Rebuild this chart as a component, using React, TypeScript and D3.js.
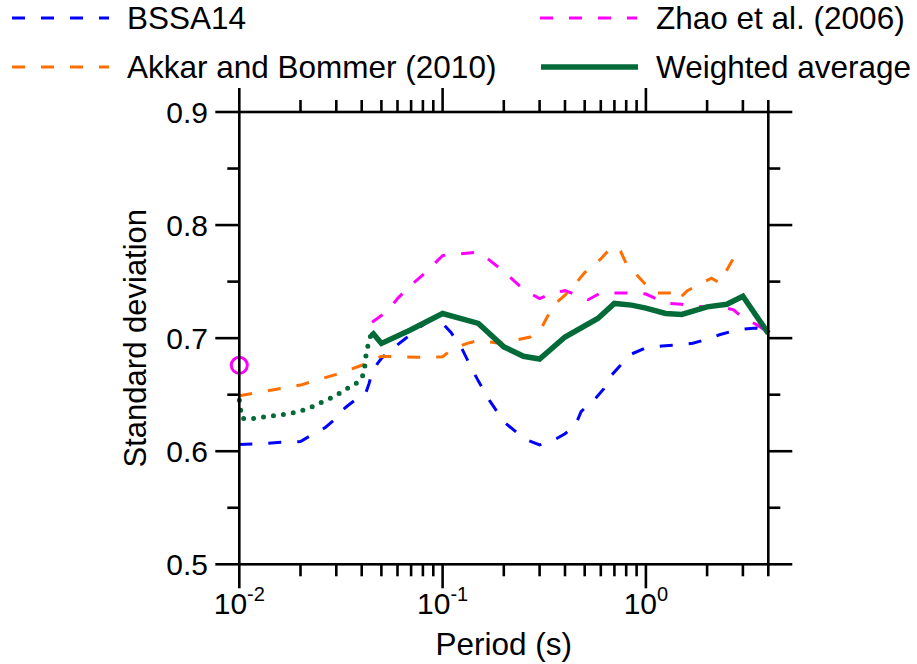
import React from "react";
import * as d3 from "d3";

// ---- data (period in s, standard deviation) ----
const bssaT = [0.01, 0.0125, 0.016, 0.02, 0.0225, 0.0265, 0.029, 0.031, 0.034, 0.037, 0.04, 0.042, 0.0435, 0.045, 0.048, 0.05, 0.055, 0.065, 0.075, 0.085, 0.09, 0.1, 0.11, 0.125, 0.14, 0.15, 0.17, 0.2, 0.23, 0.26, 0.3, 0.35, 0.4, 0.45, 0.48, 0.52, 0.56, 0.62, 0.66, 0.75, 0.85, 1.0, 1.2, 1.5, 1.7, 2.0, 2.3, 2.7, 3.0, 3.5, 4.0];
const bssaV = [0.606, 0.6065, 0.608, 0.6085, 0.614, 0.621, 0.627, 0.634, 0.64, 0.645, 0.6475, 0.652, 0.66, 0.67, 0.678, 0.682, 0.689, 0.699, 0.708, 0.715, 0.717, 0.713, 0.705, 0.69, 0.672, 0.662, 0.645, 0.626, 0.617, 0.61, 0.6055, 0.6095, 0.6155, 0.623, 0.635, 0.641, 0.646, 0.655, 0.665, 0.676, 0.686, 0.6915, 0.693, 0.6945, 0.6955, 0.699, 0.703, 0.7065, 0.708, 0.709, 0.707];

const abT = [0.01, 0.02, 0.03, 0.04, 0.05, 0.06, 0.075, 0.1, 0.11, 0.13, 0.15, 0.19, 0.22, 0.27, 0.3, 0.33, 0.35, 0.4, 0.45, 0.5, 0.55, 0.6, 0.65, 0.7, 0.75, 0.8, 0.9, 1.0, 1.1, 1.3, 1.4, 1.46, 1.6, 1.9, 2.1, 2.3, 2.55, 2.8];
const abV = [0.649, 0.6585, 0.668, 0.676, 0.684, 0.6835, 0.683, 0.6835, 0.6895, 0.695, 0.698, 0.6955, 0.6975, 0.701, 0.706, 0.72, 0.729, 0.738, 0.748, 0.758, 0.765, 0.77, 0.777, 0.781, 0.777, 0.766, 0.756, 0.747, 0.74, 0.74, 0.741, 0.735, 0.742, 0.749, 0.753, 0.749, 0.763, 0.776];

const zhaoT = [0.045, 0.05, 0.055, 0.06, 0.07, 0.08, 0.09, 0.1, 0.12, 0.15, 0.17, 0.2, 0.25, 0.3, 0.35, 0.4, 0.46, 0.52, 0.6, 0.7, 0.8, 0.9, 1.0, 1.25, 1.5, 1.8, 2.0, 2.5, 2.7, 3.0, 3.5, 4.0];
const zhaoV = [0.714, 0.72, 0.726, 0.735, 0.747, 0.756, 0.765, 0.773, 0.7745, 0.776, 0.769, 0.759, 0.743, 0.735, 0.74, 0.742, 0.738, 0.734, 0.74, 0.74, 0.74, 0.74, 0.739, 0.731, 0.73, 0.728, 0.7275, 0.7265, 0.725, 0.718, 0.712, 0.705];
const zhaoPgaT = 0.01;
const zhaoPgaV = 0.676;

const avgDotT = [0.01, 0.0103, 0.012, 0.0135, 0.016, 0.018, 0.02, 0.022, 0.025, 0.028, 0.031, 0.034, 0.038, 0.0405, 0.0415, 0.042, 0.043, 0.0448];
const avgDotV = [0.645, 0.629, 0.629, 0.6305, 0.632, 0.6335, 0.6355, 0.638, 0.6428, 0.6467, 0.651, 0.6555, 0.6605, 0.667, 0.676, 0.685, 0.694, 0.7056];
const avgT = [0.0448, 0.05, 0.069, 0.1, 0.15, 0.2, 0.25, 0.3, 0.4, 0.58, 0.7, 0.85, 1.0, 1.25, 1.5, 2.0, 2.5, 3.0, 4.0];
const avgV = [0.7056, 0.6953, 0.707, 0.7218, 0.713, 0.6923, 0.684, 0.6815, 0.701, 0.7174, 0.7307, 0.7292, 0.7265, 0.7218, 0.721, 0.7277, 0.73, 0.7371, 0.7042];

const xMajorLabels = [
  { v: 0.01, exp: "-2" },
  { v: 0.1, exp: "-1" },
  { v: 1, exp: "0" },
];
const yLabelValues = [0.5, 0.6, 0.7, 0.8, 0.9];

const BLUE = "#0000ff";
const ORANGE = "#ff6e00";
const MAGENTA = "#ff00ff";
const GREEN = "#046a38";
const FONT = "'Liberation Sans', Arial, sans-serif";

export default function App() {
  const W = 917, H = 664;
  const L = 239.3, R = 768.3, T = 112, B = 564.3;
  const x = d3.scaleLog().domain([0.01, 4]).range([L, R]);
  const y = d3.scaleLinear().domain([0.5, 0.9]).range([B, T]);
  const line = d3
    .line<[number, number]>()
    .x((d) => x(d[0]))
    .y((d) => y(d[1]))
    .curve(d3.curveLinear);
  const zip = (a: number[], b: number[]) => a.map((t, i) => [t, b[i]] as [number, number]);

  const xt = x.ticks();
  const isMajorX = (t: number) => Math.abs(Math.log10(t) - Math.round(Math.log10(t))) < 1e-9;
  const yt = d3.range(0, 9).map((i) => 0.5 + i * 0.05);
  const isMajorY = (v: number) => Math.abs(v * 10 - Math.round(v * 10)) < 1e-9;

  const sw = 2.6;
  const dash = "13 16";

  return (
    <svg width={W} height={H} style={{ position: "absolute", left: 0, top: 0, background: "#fff" }} fontFamily={FONT}>
      {/* data lines */}
      <path d={line(zip(bssaT, bssaV)) || ""} fill="none" stroke={BLUE} strokeWidth={3} strokeDasharray={dash} />
      <path d={line(zip(zhaoT, zhaoV)) || ""} fill="none" stroke={MAGENTA} strokeWidth={3} strokeDasharray={dash} />
      <path d={line(zip(abT, abV)) || ""} fill="none" stroke={ORANGE} strokeWidth={3} strokeDasharray={dash} />
      <path d={line(zip(avgDotT, avgDotV)) || ""} fill="none" stroke={GREEN} strokeWidth={5} strokeDasharray="0 10" strokeLinecap="round" />
      <path d={line(zip(avgT, avgV)) || ""} fill="none" stroke={GREEN} strokeWidth={5.5} strokeLinejoin="miter" />
      <circle cx={x(zhaoPgaT)} cy={y(zhaoPgaV)} r={8} fill="none" stroke={MAGENTA} strokeWidth={3} />

      {/* frame */}
      <rect x={L} y={T} width={R - L} height={B - T} fill="none" stroke="#000" strokeWidth={sw} />
      {/* x ticks top & bottom */}
      {xt.map((t, i) => {
        const len = isMajorX(t) ? 24 : 12;
        const xx = x(t);
        return (
          <g key={"xt" + i}>
            <line x1={xx} x2={xx} y1={B} y2={B + len} stroke="#000" strokeWidth={sw} />
            <line x1={xx} x2={xx} y1={T} y2={T - len} stroke="#000" strokeWidth={sw} />
          </g>
        );
      })}
      {/* y ticks left & right */}
      {yt.map((v, i) => {
        const len = isMajorY(v) ? 24 : 12;
        const yy = y(v);
        return (
          <g key={"yt" + i}>
            <line x1={L} x2={L - len} y1={yy} y2={yy} stroke="#000" strokeWidth={sw} />
            <line x1={R} x2={R + len} y1={yy} y2={yy} stroke="#000" strokeWidth={sw} />
          </g>
        );
      })}
      {/* y labels */}
      {yLabelValues.map((v) => (
        <text key={"yl" + v} x={208} y={y(v) + 10.5} textAnchor="end" fontSize={30} fill="#000">
          {v.toFixed(1)}
        </text>
      ))}
      {/* x labels */}
      {xMajorLabels.map((d) => (
        <text key={"xl" + d.v} x={x(d.v)} y={614} textAnchor="middle" fontSize={30} fill="#000">
          10
          <tspan fontSize={20} dy={-13}>{d.exp}</tspan>
        </text>
      ))}
      {/* axis titles */}
      <text x={(L + R) / 2} y={655} textAnchor="middle" fontSize={31.5} fill="#000">
        Period (s)
      </text>
      <text transform={`translate(146,${(T + B) / 2}) rotate(-90)`} textAnchor="middle" fontSize={31} fill="#000">
        Standard deviation
      </text>

      {/* legend */}
      <line x1={12} x2={109} y1={18} y2={18} stroke={BLUE} strokeWidth={3} strokeDasharray={dash} />
      <text x={127} y={29} fontSize={31.5} fill="#000">BSSA14</text>
      <line x1={12} x2={109} y1={67} y2={67} stroke={ORANGE} strokeWidth={3} strokeDasharray={dash} />
      <text x={127} y={78} fontSize={31.5} fill="#000">Akkar and Bommer (2010)</text>
      <line x1={540} x2={637} y1={18} y2={18} stroke={MAGENTA} strokeWidth={3} strokeDasharray={dash} />
      <text x={656} y={29} fontSize={31.5} fill="#000">Zhao et al. (2006)</text>
      <line x1={541} x2={638} y1={67} y2={67} stroke={GREEN} strokeWidth={5.5} />
      <text x={656} y={78} fontSize={31.5} fill="#000">Weighted average</text>
    </svg>
  );
}
